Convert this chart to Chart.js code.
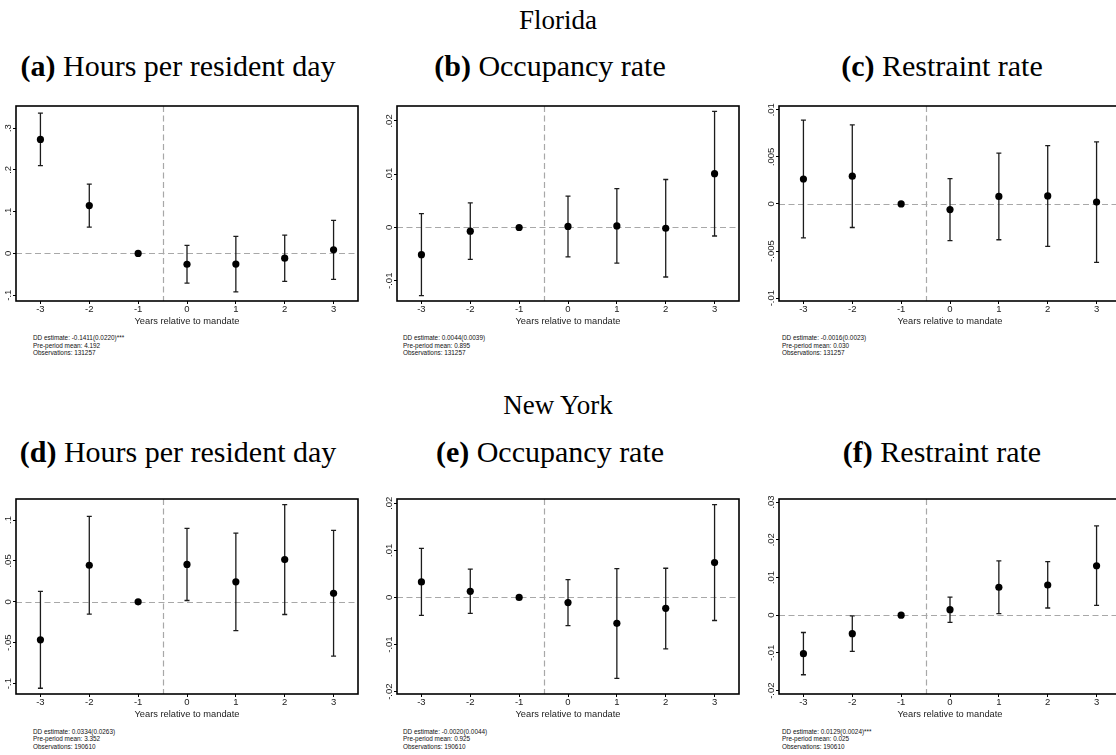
<!DOCTYPE html>
<html>
<head>
<meta charset="utf-8">
<script src="https://cdn.jsdelivr.net/npm/chart.js@4.4.1/dist/chart.umd.min.js"></script>
<style>
  html, body { margin: 0; padding: 0; background: #fff; overflow: hidden; width: 1116px; height: 755px; }
  #page { position: relative; width: 1116px; height: 755px; overflow: hidden; }
  .ttl { position: absolute; font-family: 'Liberation Serif', serif; white-space: nowrap; transform: translateX(-50%); color: #000; line-height: 1; }
  .group { font-size: 27px; }
  .sub { font-size: 30px; }
  .note { position: absolute; font-family: 'Liberation Sans', Arial, sans-serif; font-size: 6.4px; line-height: 7.7px; color: #111; white-space: nowrap; }
  canvas { position: absolute; }
</style>
</head>
<body>
<div id="page"></div>
<script>
// Data
const years = [-3, -2, -1, 0, 1, 2, 3];
const yearLabels = ['-3', '-2', '-1', '0', '1', '2', '3'];
const mandateX = -0.5;
const xLabel = 'Years relative to mandate';

// Florida: hours per resident day
const flHoursEst = [0.273, 0.1145, 0, -0.026, -0.0255, -0.0115, 0.0085];
const flHoursLo = [0.210, 0.063, null, -0.071, -0.092, -0.067, -0.062];
const flHoursHi = [0.336, 0.166, null, 0.019, 0.041, 0.044, 0.079];
const flHoursTicks = [-0.1, 0, 0.1, 0.2, 0.3];
const flHoursTickLabels = ['-.1', '0', '.1', '.2', '.3'];
const flHoursRange = [-0.114, 0.353];

// Florida: occupancy rate
const flOccEst = [-0.0051, -0.0007, 0, 0.0002, 0.0003, -0.00015, 0.0101];
const flOccLo = [-0.0128, -0.0060, null, -0.0055, -0.0067, -0.0093, -0.0016];
const flOccHi = [0.0026, 0.0046, null, 0.0059, 0.0073, 0.0090, 0.0218];
const flOccTicks = [-0.01, 0, 0.01, 0.02];
const flOccTickLabels = ['-.01', '0', '.01', '.02'];
const flOccRange = [-0.0138, 0.0228];

// Florida: restraint rate
const flRestEst = [0.00265, 0.00295, 0, -0.0006, 0.0008, 0.00085, 0.0002];
const flRestLo = [-0.0036, -0.0025, null, -0.0039, -0.0038, -0.0045, -0.0062];
const flRestHi = [0.0089, 0.0084, null, 0.0027, 0.0054, 0.0062, 0.0066];
const flRestTicks = [-0.01, -0.005, 0, 0.005, 0.01];
const flRestTickLabels = ['-.01', '-.005', '0', '.005', '.01'];
const flRestRange = [-0.0103, 0.0104];

// New York: hours per resident day
const nyHoursEst = [-0.0465, 0.0447, 0, 0.0457, 0.0245, 0.0516, 0.0104];
const nyHoursLo = [-0.1057, -0.0151, null, 0.0016, -0.0351, -0.0155, -0.0665];
const nyHoursHi = [0.0127, 0.1045, null, 0.0898, 0.0841, 0.1188, 0.0873];
const nyHoursTicks = [-0.1, -0.05, 0, 0.05, 0.1];
const nyHoursTickLabels = ['-.1', '-.05', '0', '.05', '.1'];
const nyHoursRange = [-0.1127, 0.1257];

// New York: occupancy rate
const nyOccEst = [0.0033, 0.0013, 0, -0.0011, -0.0055, -0.0023, 0.0074];
const nyOccLo = [-0.0038, -0.0034, null, -0.0060, -0.0172, -0.0109, -0.0049];
const nyOccHi = [0.0104, 0.0060, null, 0.0038, 0.0061, 0.0062, 0.0197];
const nyOccTicks = [-0.02, -0.01, 0, 0.01, 0.02];
const nyOccTickLabels = ['-.02', '-.01', '0', '.01', '.02'];
const nyOccRange = [-0.0205, 0.0209];

// New York: restraint rate
const nyRestEst = [-0.0102, -0.0049, 0, 0.00145, 0.0074, 0.0080, 0.0131];
const nyRestLo = [-0.0158, -0.0096, null, -0.0019, 0.0004, 0.0019, 0.0026];
const nyRestHi = [-0.0046, -0.0002, null, 0.0048, 0.0144, 0.0142, 0.0237];
const nyRestTicks = [-0.02, -0.01, 0, 0.01, 0.02, 0.03];
const nyRestTickLabels = ['-.02', '-.01', '0', '.01', '.02', '.03'];
const nyRestRange = [-0.0209, 0.0308];

// Notes under each panel
const flNotes = [
  ['DD estimate: -0.1411(0.0220)***', 'Pre-period mean: 4.192', 'Observations: 131257'],
  ['DD estimate: 0.0044(0.0039)', 'Pre-period mean: 0.895', 'Observations: 131257'],
  ['DD estimate: -0.0016(0.0023)', 'Pre-period mean: 0.030', 'Observations: 131257']
];
const nyNotes = [
  ['DD estimate: 0.0334(0.0263)', 'Pre-period mean: 3.352', 'Observations: 190610'],
  ['DD estimate: -0.0020(0.0044)', 'Pre-period mean: 0.925', 'Observations: 190610'],
  ['DD estimate: 0.0129(0.0024)***', 'Pre-period mean: 0.025', 'Observations: 190610']
];

const groupTitles = ['Florida', 'New York'];
const panelLetters = ['a', 'b', 'c', 'd', 'e', 'f'];
const panelNames = ['Hours per resident day', 'Occupancy rate', 'Restraint rate'];

// Layout
const FONT = "'Liberation Sans', Arial, sans-serif";
const Y_W = 16, PAD_T = 6, PAD_R = 4, X_H = 28;
const PLOT_W = 342, PLOT_H = 195;
const colLeft = [16, 397, 779];
const rowTop = [106, 499];
const subCenters = [178, 550, 942];
const noteLeft = [33, 403, 782];

const page = document.getElementById('page');

const panels = [
  { est: flHoursEst, lo: flHoursLo, hi: flHoursHi, ticks: flHoursTicks, labels: flHoursTickLabels, range: flHoursRange },
  { est: flOccEst, lo: flOccLo, hi: flOccHi, ticks: flOccTicks, labels: flOccTickLabels, range: flOccRange },
  { est: flRestEst, lo: flRestLo, hi: flRestHi, ticks: flRestTicks, labels: flRestTickLabels, range: flRestRange },
  { est: nyHoursEst, lo: nyHoursLo, hi: nyHoursHi, ticks: nyHoursTicks, labels: nyHoursTickLabels, range: nyHoursRange },
  { est: nyOccEst, lo: nyOccLo, hi: nyOccHi, ticks: nyOccTicks, labels: nyOccTickLabels, range: nyOccRange },
  { est: nyRestEst, lo: nyRestLo, hi: nyRestHi, ticks: nyRestTicks, labels: nyRestTickLabels, range: nyRestRange }
];

// reference lines, error bars, box and rotated y labels
function eventStudyPlugin(p) {
  return {
    id: 'eventStudy',
    beforeDatasetsDraw(chart) {
      const {ctx, chartArea: a, scales: {x, y}} = chart;
      ctx.save();
      ctx.beginPath();
      ctx.rect(a.left, a.top, a.width, a.height);
      ctx.clip();
      ctx.strokeStyle = '#a8a8a8';
      ctx.lineWidth = 1.2;
      ctx.setLineDash([6, 3.5]);
      const y0 = Math.round(y.getPixelForValue(0)) + 0.5;
      ctx.beginPath();
      ctx.moveTo(a.left, y0);
      ctx.lineTo(a.right, y0);
      ctx.stroke();
      const x0 = Math.round(x.getPixelForValue(mandateX)) + 0.5;
      ctx.beginPath();
      ctx.moveTo(x0, a.top);
      ctx.lineTo(x0, a.bottom);
      ctx.stroke();
      ctx.setLineDash([]);

      ctx.strokeStyle = '#1c1c1c';
      ctx.lineWidth = 1.3;
      years.forEach((yr, i) => {
        if (p.lo[i] === null) return;
        const px = x.getPixelForValue(yr);
        const pl = y.getPixelForValue(p.lo[i]);
        const ph = y.getPixelForValue(p.hi[i]);
        ctx.beginPath();
        ctx.moveTo(px, pl); ctx.lineTo(px, ph);
        ctx.moveTo(px - 2.5, pl); ctx.lineTo(px + 2.5, pl);
        ctx.moveTo(px - 2.5, ph); ctx.lineTo(px + 2.5, ph);
        ctx.stroke();
      });
      ctx.restore();
    },
    afterDraw(chart) {
      const {ctx, chartArea: a, scales: {y}} = chart;
      ctx.save();
      ctx.strokeStyle = '#000';
      ctx.lineWidth = 1.6;
      ctx.strokeRect(a.left, a.top, a.width, a.height);

      ctx.fillStyle = '#222';
      ctx.font = '9.5px ' + FONT;
      ctx.textAlign = 'center';
      ctx.textBaseline = 'middle';
      y.ticks.forEach(t => {
        const py = y.getPixelForValue(t.value);
        ctx.save();
        ctx.translate(a.left - 7.5, py);
        ctx.rotate(-Math.PI / 2);
        ctx.fillText(t.label, 0, 0);
        ctx.restore();
      });
      ctx.restore();
    }
  };
}

function makePanel(p, idx) {
  const col = idx % 3, row = Math.floor(idx / 3);
  const L = colLeft[col], T = rowTop[row];
  const cv = document.createElement('canvas');
  const w = PLOT_W + Y_W + PAD_R, h = PLOT_H + PAD_T + X_H;
  cv.width = w; cv.height = h;
  cv.style.left = (L - Y_W) + 'px';
  cv.style.top = (T - PAD_T) + 'px';
  cv.style.width = w + 'px';
  cv.style.height = h + 'px';
  page.appendChild(cv);

  new Chart(cv, {
    type: 'scatter',
    data: {
      datasets: [{
        data: years.map((yr, i) => ({x: yr, y: p.est[i]})),
        pointRadius: 3.6,
        pointHoverRadius: 3.6,
        backgroundColor: '#000',
        borderColor: '#000',
        borderWidth: 0
      }]
    },
    options: {
      responsive: false,
      animation: false,
      devicePixelRatio: 1,
      events: [],
      layout: { padding: { top: PAD_T, right: PAD_R, left: 0, bottom: 0 } },
      plugins: { legend: { display: false }, tooltip: { enabled: false } },
      scales: {
        x: {
          type: 'linear',
          min: -3.5,
          max: 3.5,
          afterBuildTicks: s => { s.ticks = years.map(v => ({value: v})); },
          afterFit: s => { s.height = X_H; },
          grid: { drawOnChartArea: false, drawTicks: true, tickLength: 3, color: '#000', lineWidth: 1 },
          border: { display: false },
          ticks: {
            font: { family: FONT, size: 9.5 },
            color: '#222',
            padding: 0,
            maxRotation: 0,
            callback: v => yearLabels[years.indexOf(v)]
          },
          title: {
            display: true,
            text: xLabel,
            font: { family: FONT, size: 9.3 },
            color: '#222',
            padding: { top: 0, bottom: 2 }
          }
        },
        y: {
          type: 'linear',
          min: p.range[0],
          max: p.range[1],
          afterBuildTicks: s => { s.ticks = p.ticks.map(v => ({value: v})); },
          afterFit: s => { s.width = Y_W; },
          grid: { drawOnChartArea: false, drawTicks: true, tickLength: 3, color: '#000', lineWidth: 1 },
          border: { display: false },
          ticks: {
            display: false,
            callback: v => p.labels[p.ticks.indexOf(v)]
          }
        }
      }
    },
    plugins: [eventStudyPlugin(p)]
  });
}

panels.forEach(makePanel);

// Titles
function addDiv(cls, html, left, top) {
  const d = document.createElement('div');
  d.className = cls;
  d.innerHTML = html;
  d.style.left = left + 'px';
  d.style.top = top + 'px';
  page.appendChild(d);
  return d;
}
const groupTop = [7, 392];
const subTop = [51, 437];
groupTitles.forEach((g, r) => addDiv('ttl group', g, 558, groupTop[r]));
panelLetters.forEach((letter, i) => {
  const col = i % 3, row = Math.floor(i / 3);
  addDiv('ttl sub', '<b>(' + letter + ')</b> ' + panelNames[col], subCenters[col], subTop[row]);
});

// Notes
const noteTop = [334, 727.5];
[flNotes, nyNotes].forEach((rowNotes, r) => {
  rowNotes.forEach((lines, c) => {
    addDiv('note', lines.join('<br>'), noteLeft[c], noteTop[r]);
  });
});
</script>
</body>
</html>
